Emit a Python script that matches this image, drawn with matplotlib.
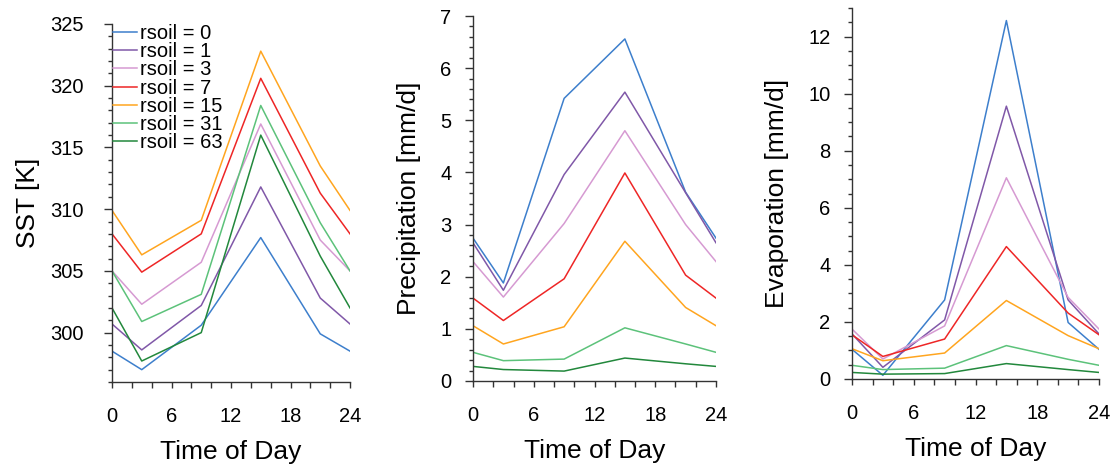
import matplotlib
matplotlib.use("Agg")
import matplotlib.pyplot as plt
from matplotlib.ticker import MultipleLocator

plt.rcParams['font.family'] = ['Liberation Sans', 'DejaVu Sans']

# Diurnal cycle sampled at these hours
hours = [0, 3, 9, 15, 21, 24]
rsoil = [0, 1, 3, 7, 15, 31, 63]
colors = ['#3d7fcc', '#8058a8', '#d69ad2', '#ee2626', '#ffa51f', '#5cc27a', '#22883c']

sst = [
    [298.5, 297.0, 300.6, 307.7, 299.9, 298.5],
    [300.7, 298.6, 302.2, 311.8, 302.8, 300.7],
    [305.0, 302.3, 305.7, 316.9, 307.5, 305.0],
    [308.0, 304.9, 308.0, 320.6, 311.3, 308.0],
    [309.9, 306.3, 309.1, 322.8, 313.5, 309.9],
    [305.0, 300.9, 303.1, 318.4, 308.9, 305.0],
    [302.0, 297.7, 300.0, 316.0, 306.2, 302.0],
]

precip = [
    [2.74, 1.88, 5.42, 6.56, 3.62, 2.74],
    [2.65, 1.74, 3.96, 5.54, 3.61, 2.65],
    [2.29, 1.61, 3.02, 4.80, 3.00, 2.29],
    [1.59, 1.16, 1.96, 3.99, 2.03, 1.59],
    [1.06, 0.71, 1.04, 2.68, 1.41, 1.06],
    [0.55, 0.39, 0.42, 1.02, 0.71, 0.55],
    [0.28, 0.22, 0.19, 0.44, 0.33, 0.28],
]

evap = [
    [1.04, 0.13, 2.77, 12.56, 1.98, 1.04],
    [1.58, 0.41, 2.07, 9.56, 2.77, 1.58],
    [1.75, 0.70, 1.86, 7.05, 2.86, 1.75],
    [1.55, 0.79, 1.40, 4.64, 2.31, 1.55],
    [1.06, 0.64, 0.91, 2.75, 1.52, 1.06],
    [0.48, 0.33, 0.38, 1.17, 0.69, 0.48],
    [0.23, 0.17, 0.19, 0.54, 0.33, 0.23],
]

W, H = 1116, 467
fig = plt.figure(figsize=(W / 100, H / 100), dpi=100)


def box(left, right, top, bottom):
    return [left / W, 1 - bottom / H, (right - left) / W, (bottom - top) / H]


panels = [
    (box(112, 350, 24, 382), sst, 'SST [K]', (296, 325), 5, 1, 15, 7),
    (box(473, 716, 16, 381), precip, 'Precipitation [mm/d]', (0, 7), 1, 0.2, 10, 14),
    (box(852, 1099, 8, 379), evap, 'Evaporation [mm/d]', (0, 13), 2, 0.5, 10, 14),
]

axes = []
for rect, data, ylabel, ylim, ymaj, ymin, ypad, lpad in panels:
    ax = fig.add_axes(rect)
    for vals, c, r in zip(data, colors, rsoil):
        ax.plot(hours, vals, color=c, lw=1.1, label=f'rsoil = {r}')
    ax.set_xlim(0, 24)
    ax.set_ylim(*ylim)
    ax.spines['top'].set_visible(False)
    ax.spines['right'].set_visible(False)
    for s in ('left', 'bottom'):
        ax.spines[s].set_linewidth(1.0)
        ax.spines[s].set_color('#333333')
    ax.xaxis.set_major_locator(MultipleLocator(6))
    ax.xaxis.set_minor_locator(MultipleLocator(2))
    ax.yaxis.set_major_locator(MultipleLocator(ymaj))
    ax.yaxis.set_minor_locator(MultipleLocator(ymin))
    ax.tick_params(axis='x', which='both', direction='out', length=4.5,
                   width=1.0, color='#333333', labelsize=14.5, pad=13.5)
    ax.tick_params(axis='y', which='major', direction='out', length=5.5,
                   width=1.0, color='#333333', labelsize=14.5, pad=ypad)
    ax.tick_params(axis='y', which='minor', direction='out', length=3,
                   width=1.0, color='#333333')
    ax.set_xlabel('Time of Day', fontsize=19, labelpad=10)
    ax.set_ylabel(ylabel, fontsize=19, labelpad=lpad)
    axes.append(ax)

axes[0].legend(loc='upper left', bbox_to_anchor=(0.004, 1.0), frameon=False,
               fontsize=14.5, handlelength=1.2, handletextpad=0.15,
               labelspacing=-0.04, borderaxespad=0.0, borderpad=0.0)

fig.savefig('out.png', dpi=100)
